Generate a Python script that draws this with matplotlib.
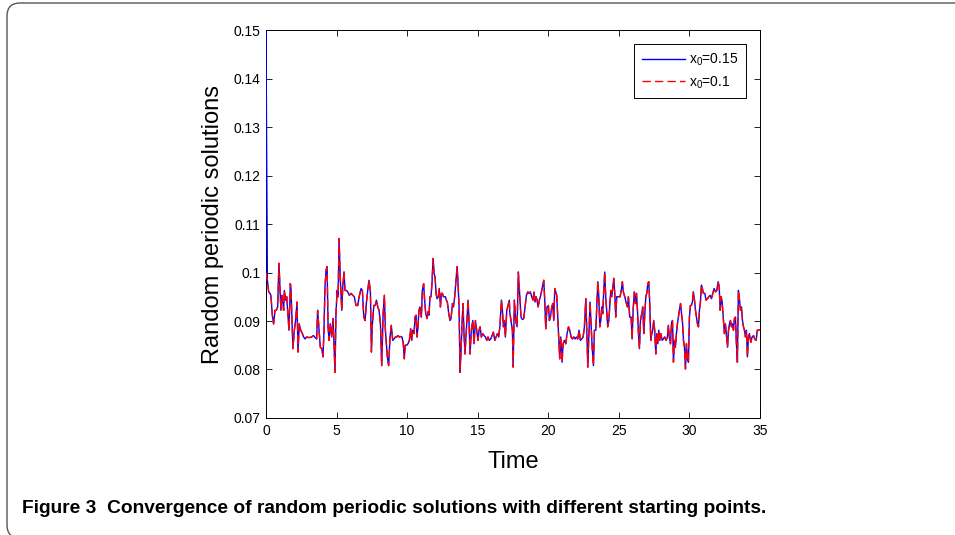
import numpy as np
import matplotlib
matplotlib.use("Agg")
from matplotlib import pyplot as plt
from matplotlib.patches import FancyBboxPatch
from matplotlib.ticker import FuncFormatter

plt.rcParams["font.family"] = ["Liberation Sans", "DejaVu Sans"]
plt.rcParams["mathtext.fontset"] = "custom"
plt.rcParams["mathtext.rm"] = "Liberation Sans"
plt.rcParams["mathtext.default"] = "regular"

# values (time, solution)
t_tail = [
    0.10, 0.19, 0.28, 0.35, 0.45, 0.54, 0.64, 0.73, 0.83, 0.92, 0.99, 1.06, 1.13, 1.21, 1.25,
    1.30, 1.39, 1.47, 1.54, 1.63, 1.73, 1.77, 1.84, 1.91, 2.01, 2.10, 2.20, 2.27, 2.36, 2.46,
    2.58, 2.67, 2.77, 2.88, 3.00, 3.12, 3.24, 3.36, 3.48, 3.59, 3.66, 3.76, 3.85, 3.95, 4.04,
    4.11, 4.18, 4.26, 4.33, 4.40, 4.47, 4.56, 4.66, 4.75, 4.82, 4.89, 4.96, 5.04, 5.11, 5.18,
    5.27, 5.37, 5.44, 5.53, 5.60, 5.70, 5.79, 5.91, 6.03, 6.15, 6.26, 6.38, 6.50, 6.60, 6.74,
    6.83, 6.93, 7.02, 7.12, 7.21, 7.30, 7.40, 7.47, 7.54, 7.64, 7.73, 7.83, 7.92, 8.01, 8.11,
    8.20, 8.30, 8.39, 8.46, 8.53, 8.60, 8.69, 8.79, 8.88, 8.98, 9.07, 9.17, 9.26, 9.36, 9.45,
    9.54, 9.64, 9.73, 9.80, 9.87, 9.97, 10.06, 10.16, 10.25, 10.32, 10.40, 10.49, 10.56, 10.63,
    10.70, 10.77, 10.84, 10.91, 11.01, 11.08, 11.17, 11.24, 11.32, 11.41, 11.48, 11.55, 11.62,
    11.69, 11.76, 11.84, 11.91, 11.98, 12.05, 12.12, 12.21, 12.28, 12.36, 12.43, 12.50, 12.57,
    12.64, 12.71, 12.78, 12.85, 12.95, 13.04, 13.11, 13.21, 13.28, 13.37, 13.47, 13.54, 13.61,
    13.68, 13.75, 13.82, 13.89, 13.96, 14.03, 14.10, 14.17, 14.25, 14.32, 14.39, 14.46, 14.55,
    14.65, 14.74, 14.84, 14.93, 15.02, 15.10, 15.17, 15.26, 15.36, 15.45, 15.55, 15.64, 15.73,
    15.83, 15.92, 16.02, 16.11, 16.21, 16.30, 16.40, 16.49, 16.58, 16.68, 16.75, 16.82, 16.89,
    16.96, 17.06, 17.15, 17.24, 17.27, 17.36, 17.46, 17.51, 17.60, 17.69, 17.79, 17.88, 17.98,
    18.07, 18.17, 18.26, 18.36, 18.45, 18.55, 18.64, 18.73, 18.83, 18.92, 18.99, 19.06, 19.13,
    19.21, 19.28, 19.37, 19.44, 19.54, 19.61, 19.68, 19.75, 19.82, 19.91, 20.01, 20.08, 20.15,
    20.25, 20.32, 20.39, 20.46, 20.53, 20.60, 20.67, 20.74, 20.81, 20.88, 20.98, 21.05, 21.14,
    21.24, 21.33, 21.43, 21.52, 21.62, 21.71, 21.81, 21.90, 22.00, 22.09, 22.18, 22.28, 22.37,
    22.47, 22.56, 22.66, 22.73, 22.80, 22.89, 22.96, 23.03, 23.11, 23.20, 23.27, 23.37, 23.44,
    23.51, 23.58, 23.65, 23.72, 23.79, 23.86, 23.93, 24.00, 24.07, 24.14, 24.21, 24.29, 24.36,
    24.43, 24.50, 24.57, 24.64, 24.71, 24.78, 24.85, 24.97, 25.09, 25.19, 25.25, 25.32, 25.42,
    25.51, 25.61, 25.68, 25.77, 25.87, 25.94, 26.01, 26.10, 26.18, 26.25, 26.32, 26.39, 26.46,
    26.53, 26.62, 26.69, 26.77, 26.84, 26.91, 26.98, 27.05, 27.12, 27.19, 27.26, 27.33, 27.40,
    27.47, 27.54, 27.62, 27.69, 27.76, 27.83, 27.90, 27.97, 28.07, 28.16, 28.25, 28.35, 28.44,
    28.51, 28.58, 28.66, 28.73, 28.80, 28.87, 28.94, 29.01, 29.08, 29.15, 29.22, 29.29, 29.37,
    29.44, 29.51, 29.58, 29.65, 29.72, 29.79, 29.86, 29.93, 30.00, 30.07, 30.14, 30.21, 30.28,
    30.36, 30.43, 30.50, 30.57, 30.64, 30.71, 30.78, 30.85, 30.92, 30.99, 31.09, 31.18, 31.28,
    31.37, 31.47, 31.56, 31.66, 31.75, 31.85, 31.94, 32.04, 32.11, 32.18, 32.25, 32.32, 32.41,
    32.48, 32.55, 32.63, 32.70, 32.77, 32.84, 32.91, 32.98, 33.05, 33.12, 33.19, 33.26, 33.33,
    33.40, 33.47, 33.54, 33.62, 33.69, 33.76, 33.83, 33.90, 33.97, 34.04, 34.11, 34.18, 34.25,
    34.35, 34.44, 34.54, 34.63, 34.73, 34.81, 34.91, 34.97, 35.00,
]
x_tail = [
    0.0984, 0.0960, 0.0957, 0.0953, 0.0912, 0.0894, 0.0922, 0.0922, 0.0929, 0.1019, 0.0970, 0.0922, 0.0953, 0.0936, 0.0922,
    0.0963, 0.0943, 0.0950, 0.0919, 0.0881, 0.0977, 0.0967, 0.0908, 0.0843, 0.0881, 0.0901, 0.0939, 0.0836, 0.0894, 0.0881,
    0.0874, 0.0867, 0.0863, 0.0867, 0.0866, 0.0866, 0.0867, 0.0870, 0.0866, 0.0863, 0.0922, 0.0881, 0.0846, 0.0843, 0.0826,
    0.0881, 0.0970, 0.1005, 0.1012, 0.0888, 0.0860, 0.0894, 0.0867, 0.0905, 0.0853, 0.0794, 0.0915, 0.0963, 0.0950, 0.1070,
    0.0984, 0.0922, 0.0970, 0.1001, 0.0963, 0.0963, 0.0960, 0.0953, 0.0957, 0.0953, 0.0950, 0.0932, 0.0932, 0.0950, 0.0967,
    0.0963, 0.0908, 0.0901, 0.0939, 0.0963, 0.0984, 0.0960, 0.0836, 0.0894, 0.0932, 0.0932, 0.0943, 0.0929, 0.0922, 0.0894,
    0.0808, 0.0915, 0.0953, 0.0881, 0.0853, 0.0826, 0.0808, 0.0867, 0.0891, 0.0860, 0.0863, 0.0867, 0.0867, 0.0870, 0.0867,
    0.0868, 0.0867, 0.0853, 0.0822, 0.0850, 0.0850, 0.0853, 0.0860, 0.0884, 0.0860, 0.0881, 0.0874, 0.0908, 0.0912,
    0.0867, 0.0888, 0.0922, 0.0929, 0.0908, 0.0963, 0.0977, 0.0943, 0.0915, 0.0905, 0.0919, 0.0912, 0.0950,
    0.0950, 0.0977, 0.1029, 0.0998, 0.0991, 0.0957, 0.0946, 0.0950, 0.0967, 0.0929, 0.0957, 0.0957, 0.0950,
    0.0950, 0.0950, 0.0943, 0.0939, 0.0915, 0.0901, 0.0905, 0.0936, 0.0929, 0.0950, 0.0988, 0.1012, 0.0977,
    0.0929, 0.0794, 0.0839, 0.0894, 0.0936, 0.0874, 0.0832, 0.0867, 0.0908, 0.0943, 0.0894, 0.0832, 0.0881,
    0.0901, 0.0853, 0.0901, 0.0881, 0.0860, 0.0881, 0.0888, 0.0867, 0.0874, 0.0870, 0.0867, 0.0860, 0.0867,
    0.0860, 0.0863, 0.0870, 0.0877, 0.0860, 0.0867, 0.0874, 0.0867, 0.0891, 0.0943, 0.0922, 0.0888, 0.0901,
    0.0867, 0.0922, 0.0932, 0.0943, 0.0919, 0.0901, 0.0881, 0.0805, 0.0943, 0.0901, 0.0888, 0.1001, 0.0950,
    0.0908, 0.0903, 0.0905, 0.0929, 0.0953, 0.0960, 0.0957, 0.0960, 0.0950, 0.0943, 0.0960, 0.0939, 0.0950,
    0.0943, 0.0929, 0.0943, 0.0950, 0.0963, 0.0974, 0.0984, 0.0943, 0.0884, 0.0929, 0.0932, 0.0901, 0.0908,
    0.0929, 0.0936, 0.0901, 0.0967, 0.0960, 0.0953, 0.0908, 0.0867, 0.0822, 0.0867, 0.0815, 0.0853, 0.0860,
    0.0853, 0.0874, 0.0888, 0.0881, 0.0867, 0.0863, 0.0867, 0.0863, 0.0867, 0.0863, 0.0881, 0.0860, 0.0863,
    0.0867, 0.0888, 0.0946, 0.0881, 0.0805, 0.0881, 0.0939, 0.0894, 0.0846, 0.0808, 0.0881, 0.0881, 0.0929,
    0.0981, 0.0950, 0.0888, 0.0901, 0.0929, 0.0915, 0.0963, 0.1001, 0.0950, 0.0922, 0.0888, 0.0901, 0.0932,
    0.0963, 0.0950, 0.0970, 0.0988, 0.0957, 0.0908, 0.0950, 0.0950, 0.0950, 0.0967, 0.0981, 0.0960, 0.0950,
    0.0939, 0.0929, 0.0950, 0.0908, 0.0908, 0.0863, 0.0922, 0.0960, 0.0936, 0.0957, 0.0922, 0.0874, 0.0843,
    0.0901, 0.0915, 0.0929, 0.0874, 0.0915, 0.0950, 0.0957, 0.0977, 0.0981, 0.0936, 0.0860, 0.0874, 0.0881,
    0.0901, 0.0881, 0.0832, 0.0874, 0.0853, 0.0881, 0.0860, 0.0874, 0.0860, 0.0863, 0.0867, 0.0860, 0.0867,
    0.0891, 0.0867, 0.0853, 0.0894, 0.0901, 0.0815, 0.0860, 0.0846, 0.0874, 0.0894, 0.0908, 0.0922, 0.0936,
    0.0915, 0.0898, 0.0860, 0.0846, 0.0801, 0.0853, 0.0826, 0.0815, 0.0908, 0.0932, 0.0932, 0.0939, 0.0960,
    0.0943, 0.0922, 0.0908, 0.0894, 0.0888, 0.0922, 0.0939, 0.0974, 0.0967, 0.0957, 0.0957, 0.0943, 0.0946,
    0.0950, 0.0953, 0.0946, 0.0957, 0.0967, 0.0960, 0.0963, 0.0981, 0.0970, 0.0922, 0.0950, 0.0939, 0.0901,
    0.0874, 0.0894, 0.0867, 0.0846, 0.0881, 0.0894, 0.0901, 0.0888, 0.0894, 0.0881, 0.0905, 0.0908, 0.0853,
    0.0815, 0.0963, 0.0946, 0.0922, 0.0929, 0.0901, 0.0888, 0.0881, 0.0867, 0.0881, 0.0826, 0.0867, 0.0874,
    0.0856, 0.0867, 0.0870, 0.0863, 0.0860, 0.0881, 0.0881, 0.0882, 0.0882,
]

# starting points of the two solutions
x0_blue = 0.15
x0_red = 0.1

t_blue = [0.0] + t_tail
x_blue = [x0_blue] + x_tail
t_red = [0.0] + t_tail
x_red = [x0_red] + x_tail

fig = plt.figure(figsize=(9.55, 5.35), dpi=100)

# rounded frame around figure + caption
frame = FancyBboxPatch((0.07, -0.03), 9.8, 5.35,
                       boxstyle="round,pad=0,rounding_size=0.13",
                       transform=fig.dpi_scale_trans, fill=False,
                       edgecolor="#555555", linewidth=1.0)
fig.patches.append(frame)

ax = fig.add_axes([0.2785, 0.2187, 0.5173, 0.7252])
ax.plot(t_blue, x_blue, color="blue", lw=1.0, label="x$_0$=0.15", zorder=3)
ax.plot(t_red, x_red, color="red", lw=1.0, ls=(0, (6, 3)), label="x$_0$=0.1", zorder=3)

ax.set_xlim(0, 35)
ax.set_ylim(0.07, 0.15)
ax.set_xticks(np.arange(0, 36, 5))
ax.set_yticks(np.arange(0.07, 0.1501, 0.01))
ax.yaxis.set_major_formatter(FuncFormatter(lambda v, p: f"{v:.2f}".rstrip("0")))
ax.tick_params(direction="in", top=True, right=True, length=4, width=0.6,
               labelsize=10, pad=4)
for s in ax.spines.values():
    s.set_linewidth(0.7)

ax.set_xlabel("Time", fontsize=17, labelpad=10)
ax.set_ylabel("Random periodic solutions", fontsize=17, labelpad=7)

leg = ax.legend(loc="upper right", bbox_to_anchor=(0.972, 0.964), fontsize=10,
                fancybox=False, edgecolor="black", framealpha=1,
                handlelength=3.1, handletextpad=0.3, borderpad=0.55, labelspacing=0.45,
                borderaxespad=0)
leg.get_frame().set_linewidth(0.7)

fig.text(0.023, 0.05, "Figure 3  Convergence of random periodic solutions with different starting points.",
         fontsize=13.8, fontweight="bold", va="center", ha="left")

fig.savefig("out.png", dpi=100)
